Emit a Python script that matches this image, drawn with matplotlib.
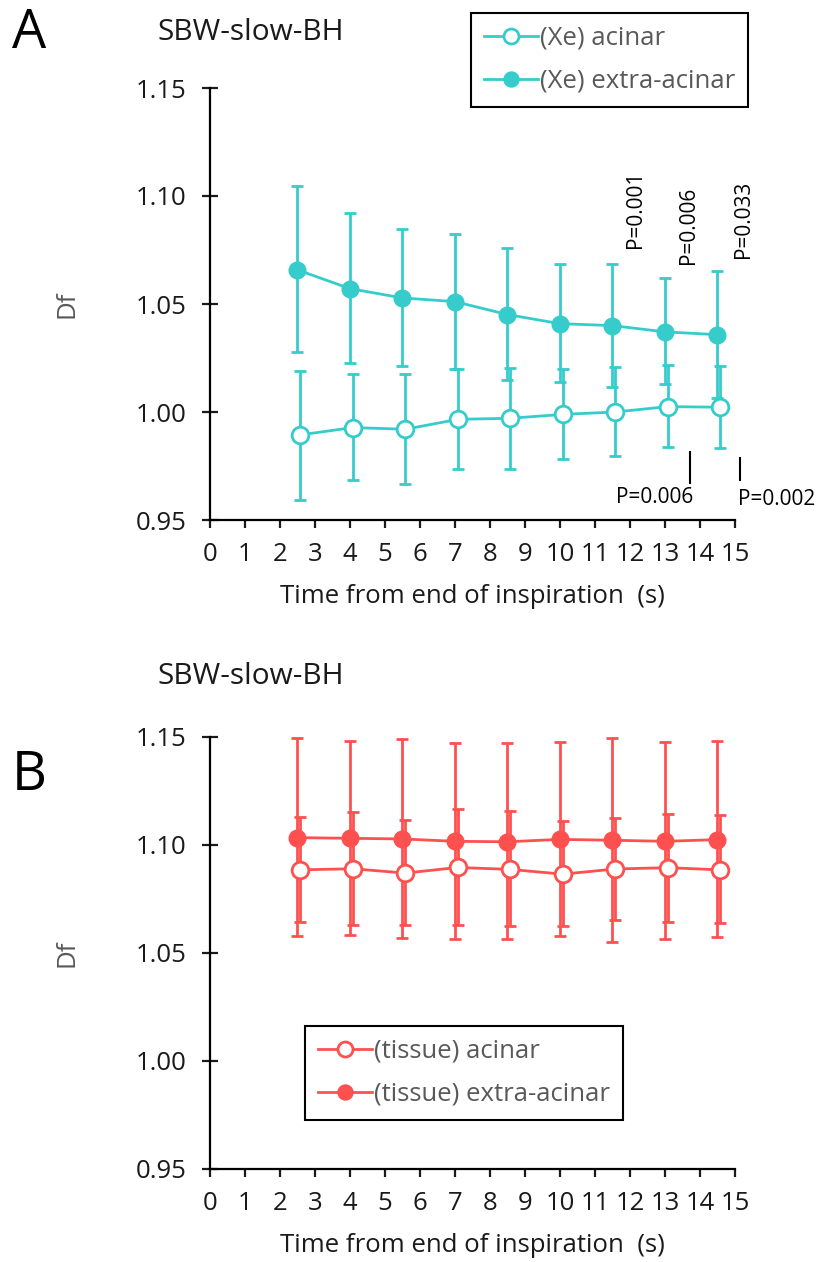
import matplotlib
matplotlib.use("Agg")
import matplotlib.pyplot as plt
from matplotlib.lines import Line2D
import numpy as np

plt.rcParams['font.family'] = ['Open Sans', 'DejaVu Sans']

# ---- data ----
time_s = [2.5, 4, 5.5, 7, 8.5, 10, 11.5, 13, 14.5]
x_ticks = list(range(0, 16))
y_ticks = [0.95, 1.00, 1.05, 1.10, 1.15]
y_ticklabels = ["0.95", "1.00", "1.05", "1.10", "1.15"]

xe_acinar = [0.9894, 0.9928, 0.9920, 0.9966, 0.9971, 0.9989, 1.0000, 1.0025, 1.0022]
xe_acinar_hi = [1.0192, 1.0174, 1.0174, 1.0197, 1.0205, 1.0200, 1.0208, 1.0217, 1.0212]
xe_acinar_lo = [0.9592, 0.9686, 0.9666, 0.9735, 0.9735, 0.9782, 0.9797, 0.9840, 0.9834]

xe_extra = [1.0658, 1.0571, 1.0528, 1.0511, 1.0451, 1.0409, 1.0400, 1.0371, 1.0358]
xe_extra_hi = [1.1048, 1.0920, 1.0848, 1.0822, 1.0760, 1.0683, 1.0683, 1.0622, 1.0655]
xe_extra_lo = [1.0278, 1.0228, 1.0211, 1.0197, 1.0146, 1.0140, 1.0117, 1.0131, 1.0065]

ti_acinar = [1.0885, 1.0890, 1.0870, 1.0896, 1.0887, 1.0865, 1.0889, 1.0895, 1.0885]
ti_acinar_hi = [1.1130, 1.1155, 1.1116, 1.1166, 1.1156, 1.1113, 1.1125, 1.1144, 1.1138]
ti_acinar_lo = [1.0644, 1.0630, 1.0630, 1.0630, 1.0623, 1.0623, 1.0653, 1.0645, 1.0637]

ti_extra = [1.1034, 1.1031, 1.1028, 1.1017, 1.1015, 1.1026, 1.1022, 1.1017, 1.1025]
ti_extra_hi = [1.1497, 1.1481, 1.1489, 1.1474, 1.1472, 1.1478, 1.1495, 1.1477, 1.1481]
ti_extra_lo = [1.0577, 1.0585, 1.0568, 1.0565, 1.0563, 1.0577, 1.0552, 1.0565, 1.0573]

p_top_labels = ["P=0.001", "P=0.006", "P=0.033"]
p_top_x = [12.17, 13.66, 15.23]
p_top_y = [1.094, 1.0866, 1.0894]
p_bot_labels = ["P=0.006", "P=0.002"]
p_bot_line_x = [13.71, 15.14]
p_bot_text_x = [12.71, 16.2]

TEAL = "#36CCCC"
RED = "#FF5050"
GRAY = "#595959"
TXT = "#1a1a1a"
OFFSET = 0.08
FS = 18.5

fig = plt.figure(figsize=(8.2, 12.62), dpi=100)
ax1 = fig.add_axes([210/820, 1-520/1262, 525/820, 432/1262])
ax2 = fig.add_axes([210/820, 1-1169/1262, 525/820, 432/1262])


def draw(ax, color, mean_o, hi_o, lo_o, mean_f, hi_f, lo_f):
    x = np.array(time_s)
    mo, mf = np.array(mean_o), np.array(mean_f)
    eo = [mo - np.array(lo_o), np.array(hi_o) - mo]
    ef = [mf - np.array(lo_f), np.array(hi_f) - mf]
    ax.errorbar(x, mf, yerr=ef, color=color, lw=2, marker='o', ms=12,
                mfc=color, mec=color, capsize=4, capthick=2, elinewidth=2,
                zorder=3)
    ax.errorbar(x + OFFSET, mo, yerr=eo, color=color, lw=2, marker='o', ms=12,
                mfc='white', mec=color, mew=2, capsize=4, capthick=2,
                elinewidth=2, zorder=4)
    ho = Line2D([], [], color=color, lw=2, marker='o', ms=12, mfc='white',
                mec=color, mew=2)
    hf = Line2D([], [], color=color, lw=2, marker='o', ms=12, mfc=color, mec=color)
    return ho, hf


def style(ax):
    ax.set_xlim(0, 15)
    ax.set_ylim(0.95, 1.15)
    ax.set_xticks(x_ticks)
    ax.set_xticklabels([str(t) for t in x_ticks])
    ax.set_yticks(y_ticks)
    ax.set_yticklabels(y_ticklabels)
    for s in ['top', 'right']:
        ax.spines[s].set_visible(False)
    for s in ['left', 'bottom']:
        ax.spines[s].set_linewidth(1.6)
    ax.tick_params(axis='y', direction='inout', length=12, width=1.6,
                   labelsize=FS, colors=TXT, pad=11)
    ax.tick_params(axis='x', direction='out', length=6, width=1.6,
                   labelsize=FS, colors=TXT, pad=10)
    ax.set_ylabel("Df", fontsize=FS, color=GRAY, labelpad=40)
    ax.set_xlabel("Time from end of inspiration  (s)", fontsize=FS,
                  color=TXT, labelpad=12)


h1o, h1f = draw(ax1, TEAL, xe_acinar, xe_acinar_hi, xe_acinar_lo,
                xe_extra, xe_extra_hi, xe_extra_lo)
h2o, h2f = draw(ax2, RED, ti_acinar, ti_acinar_hi, ti_acinar_lo,
                ti_extra, ti_extra_hi, ti_extra_lo)
style(ax1)
style(ax2)

leg_kw = dict(loc='upper left', bbox_transform=fig.transFigure, borderaxespad=0,
              fontsize=FS, handlelength=2.1, handletextpad=0.1, borderpad=0.5,
              labelspacing=0.7, fancybox=False, framealpha=1,
              edgecolor='black', labelcolor=GRAY, markerscale=0.9)
leg1 = fig.legend([h1o, h1f], ["(Xe) acinar", "(Xe) extra-acinar"],
                  bbox_to_anchor=(471/820, 1-13/1262), **leg_kw)
leg1.get_frame().set_linewidth(1.5)
leg2 = fig.legend([h2o, h2f], ["(tissue) acinar", "(tissue) extra-acinar"],
                  bbox_to_anchor=(305/820, 1-1026/1262), **leg_kw)
leg2.get_frame().set_linewidth(1.5)

# P-value annotations
for lab, px, py in zip(p_top_labels, p_top_x, p_top_y):
    ax1.text(px, py, lab, rotation=90, ha='center', va='center', fontsize=15,
             color='black', clip_on=False)
for lx, tx, lab, (y0, y1), ty in zip(p_bot_line_x, p_bot_text_x, p_bot_labels,
                                     [(0.9671, 0.9815), (0.9685, 0.9787)],
                                     [0.9606, 0.9593]):
    ax1.plot([lx, lx], [y0, y1], color='black', lw=1.5, clip_on=False)
    ax1.text(tx, ty, lab, ha='center', va='center', fontsize=15, color='black',
             clip_on=False)

# Titles and panel letters
fig.text(158/820, 1-32/1262, "SBW-slow-BH", fontsize=21.5, ha='left', va='center', color=TXT)
fig.text(158/820, 1-677/1262, "SBW-slow-BH", fontsize=21.5, ha='left', va='center', color=TXT)
fig.text(12/820, 1-33/1262, "A", fontsize=39, ha='left', va='center', color='black')
fig.text(12/820, 1-776/1262, "B", fontsize=39, ha='left', va='center', color='black')

fig.savefig("out.png", dpi=100)
